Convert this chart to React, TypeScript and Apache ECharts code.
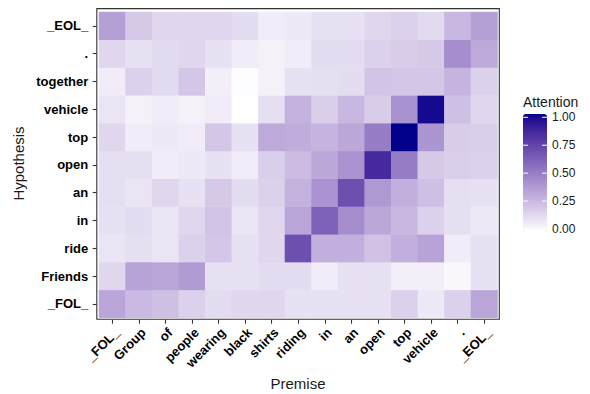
import React, { useEffect, useRef } from "react";
import * as echarts from "echarts";

const premise = ["_FOL_", "Group", "of", "people", "wearing", "black", "shirts", "riding", "in", "an", "open", "top", "vehicle", ".", "_EOL_"];
const hypothesis = ["_FOL_", "Friends", "ride", "in", "an", "open", "top", "vehicle", "together", ".", "_EOL_"];

// attention rows, one per hypothesis token, columns follow `premise`
const rowFOL = [0.34, 0.26, 0.24, 0.17, 0.13, 0.15, 0.15, 0.11, 0.11, 0.11, 0.11, 0.17, 0.08, 0.17, 0.34];
const rowFriends = [0.15, 0.35, 0.34, 0.38, 0.11, 0.11, 0.13, 0.13, 0.07, 0.11, 0.11, 0.06, 0.06, 0.03, 0.11];
const rowRide = [0.1, 0.12, 0.1, 0.17, 0.21, 0.11, 0.15, 0.69, 0.3, 0.3, 0.23, 0.3, 0.35, 0.07, 0.11];
const rowIn = [0.11, 0.13, 0.1, 0.15, 0.22, 0.1, 0.15, 0.34, 0.62, 0.43, 0.33, 0.27, 0.17, 0.12, 0.08];
const rowAn = [0.12, 0.1, 0.15, 0.11, 0.2, 0.13, 0.17, 0.29, 0.41, 0.69, 0.39, 0.3, 0.24, 0.12, 0.11];
const rowOpen = [0.12, 0.12, 0.07, 0.08, 0.11, 0.07, 0.18, 0.25, 0.33, 0.41, 0.85, 0.5, 0.2, 0.18, 0.17];
const rowTop = [0.15, 0.07, 0.08, 0.07, 0.21, 0.11, 0.32, 0.31, 0.28, 0.33, 0.5, 1.0, 0.4, 0.19, 0.18];
const rowVehicle = [0.1, 0.05, 0.07, 0.05, 0.07, 0.0, 0.12, 0.29, 0.18, 0.27, 0.19, 0.42, 0.97, 0.24, 0.15];
const rowTogether = [0.07, 0.17, 0.14, 0.21, 0.06, 0.01, 0.05, 0.11, 0.12, 0.13, 0.22, 0.21, 0.21, 0.28, 0.17];
const rowDot = [0.15, 0.11, 0.14, 0.15, 0.11, 0.07, 0.05, 0.07, 0.13, 0.13, 0.17, 0.19, 0.2, 0.44, 0.32];
const rowEOL = [0.36, 0.2, 0.15, 0.15, 0.15, 0.13, 0.07, 0.08, 0.11, 0.11, 0.15, 0.17, 0.14, 0.27, 0.36];

const legendTicks = [1.0, 0.75, 0.5, 0.25, 0.0];

const rows = [rowFOL, rowFriends, rowRide, rowIn, rowAn, rowOpen, rowTop, rowVehicle, rowTogether, rowDot, rowEOL];

// --- Lab interpolation (white -> darkblue), like ggplot's gradient ---
function toLin(c: number) {
  c /= 255;
  return c <= 0.04045 ? c / 12.92 : Math.pow((c + 0.055) / 1.055, 2.4);
}
function fromLin(c: number) {
  const v = c <= 0.0031308 ? 12.92 * c : 1.055 * Math.pow(c, 1 / 2.4) - 0.055;
  return Math.round(Math.max(0, Math.min(1, v)) * 255);
}
const Xn = 0.95047, Yn = 1, Zn = 1.08883;
function f(t: number) {
  return t > 216 / 24389 ? Math.cbrt(t) : (24389 / 27 * t + 16) / 116;
}
function finv(t: number) {
  return t > 6 / 29 ? t * t * t : 3 * (6 / 29) * (6 / 29) * (t - 4 / 29);
}
function rgbToLab(r: number, g: number, b: number) {
  const R = toLin(r), G = toLin(g), B = toLin(b);
  const X = 0.4124 * R + 0.3576 * G + 0.1805 * B;
  const Y = 0.2126 * R + 0.7152 * G + 0.0722 * B;
  const Z = 0.0193 * R + 0.1192 * G + 0.9505 * B;
  const fx = f(X / Xn), fy = f(Y / Yn), fz = f(Z / Zn);
  return [116 * fy - 16, 500 * (fx - fy), 200 * (fy - fz)];
}
function labToHex(L: number, a: number, bb: number) {
  const fy = (L + 16) / 116;
  const fx = fy + a / 500;
  const fz = fy - bb / 200;
  const X = Xn * finv(fx), Y = Yn * finv(fy), Z = Zn * finv(fz);
  const R = 3.2406 * X - 1.5372 * Y - 0.4986 * Z;
  const G = -0.9689 * X + 1.8758 * Y + 0.0415 * Z;
  const B = 0.0557 * X - 0.204 * Y + 1.057 * Z;
  const h = (n: number) => fromLin(n).toString(16).padStart(2, "0");
  return "#" + h(R) + h(G) + h(B);
}
const lowLab = rgbToLab(255, 255, 255);
const highLab = rgbToLab(0, 0, 139);
const colorStops: string[] = [];
for (let i = 0; i <= 20; i++) {
  const t = i / 20;
  colorStops.push(
    labToHex(
      lowLab[0] + (highLab[0] - lowLab[0]) * t,
      lowLab[1] + (highLab[1] - lowLab[1]) * t,
      lowLab[2] + (highLab[2] - lowLab[2]) * t
    )
  );
}

const FONT = "Liberation Sans, Arial, Helvetica, sans-serif";

export default function App() {
  const ref = useRef<HTMLDivElement>(null);
  useEffect(() => {
    if (!ref.current) return;
    const chart = echarts.init(ref.current, null, { renderer: "svg" });
    const data: number[][] = [];
    rows.forEach((r, yi) => r.forEach((v, xi) => data.push([xi, yi, v])));

    const gridLeft = 99, gridTop = 12, gridW = 398.5, gridH = 305.7;
    const barTop = 114, barH = 118, barLeft = 523, barW = 24;
    const tickY = (v: number) => 117.3 + (1 - v) * 111.7;

    const graphics: any[] = [
      {
        type: "rect",
        shape: { x: 96.8, y: 8.6, width: 402.5, height: 310.6 },
        style: { fill: "none", stroke: "#333333", lineWidth: 1.1 },
        z: 10,
      },
      {
        type: "text",
        x: 18,
        y: 163.5,
        rotation: Math.PI / 2,
        style: { text: "Hypothesis", font: `15px ${FONT}`, fill: "#1a1a1a", textAlign: "center", textVerticalAlign: "middle" },
      },
      {
        type: "text",
        x: 298,
        y: 383,
        style: { text: "Premise", font: `15px ${FONT}`, fill: "#1a1a1a", textAlign: "center", textVerticalAlign: "middle" },
      },
      {
        type: "text",
        x: 523,
        y: 102,
        style: { text: "Attention", font: `14px ${FONT}`, fill: "#1a1a1a", textAlign: "left", textVerticalAlign: "middle" },
      },
    ];
    legendTicks.forEach((v) => {
      const y = tickY(v);
      graphics.push({
        type: "text",
        x: 552,
        y,
        style: { text: v.toFixed(2), font: `12px ${FONT}`, fill: "#1a1a1a", textAlign: "left", textVerticalAlign: "middle" },
      });
      graphics.push({
        type: "line",
        shape: { x1: barLeft, y1: y, x2: barLeft + 5, y2: y },
        style: { stroke: "#ffffff", lineWidth: 1 },
        z: 20,
      });
      graphics.push({
        type: "line",
        shape: { x1: barLeft + barW - 5, y1: y, x2: barLeft + barW, y2: y },
        style: { stroke: "#ffffff", lineWidth: 1 },
        z: 20,
      });
    });

    chart.setOption({
      animation: false,
      textStyle: { fontFamily: FONT },
      grid: { left: gridLeft, top: gridTop, width: gridW, height: gridH, containLabel: false },
      xAxis: {
        type: "category",
        data: premise,
        offset: 2,
        axisLine: { show: false },
        axisTick: { show: true, length: 4, alignWithLabel: true, interval: 0, lineStyle: { color: "#333333", width: 1.1 } },
        axisLabel: {
          interval: 0,
          rotate: 45,
          margin: 6,
          fontSize: 13,
          fontWeight: "bold",
          color: "#000000",
          fontFamily: FONT,
          verticalAlign: "top",
        },
        splitLine: { show: false },
      },
      yAxis: {
        type: "category",
        data: hypothesis,
        offset: 2.3,
        axisLine: { show: false },
        axisTick: { show: true, length: 4, alignWithLabel: true, interval: 0, lineStyle: { color: "#333333", width: 1.1 } },
        axisLabel: { interval: 0, margin: 8.5, fontSize: 13, fontWeight: "bold", color: "#000000", fontFamily: FONT },
        splitLine: { show: false },
      },
      visualMap: {
        type: "continuous",
        min: 0,
        max: 1,
        show: true,
        calculable: false,
        orient: "vertical",
        left: barLeft,
        top: barTop,
        itemWidth: barW,
        itemHeight: barH,
        padding: 0,
        inRange: { color: colorStops },
        hoverLink: false,
      },
      series: [
        {
          type: "heatmap",
          data,
          itemStyle: { borderWidth: 0 },
          emphasis: { disabled: true },
        },
      ],
      graphic: graphics,
    });
    return () => chart.dispose();
  }, []);
  return <div ref={ref} style={{ position: "absolute", left: 0, top: 0, width: 590, height: 394 }} />;
}
